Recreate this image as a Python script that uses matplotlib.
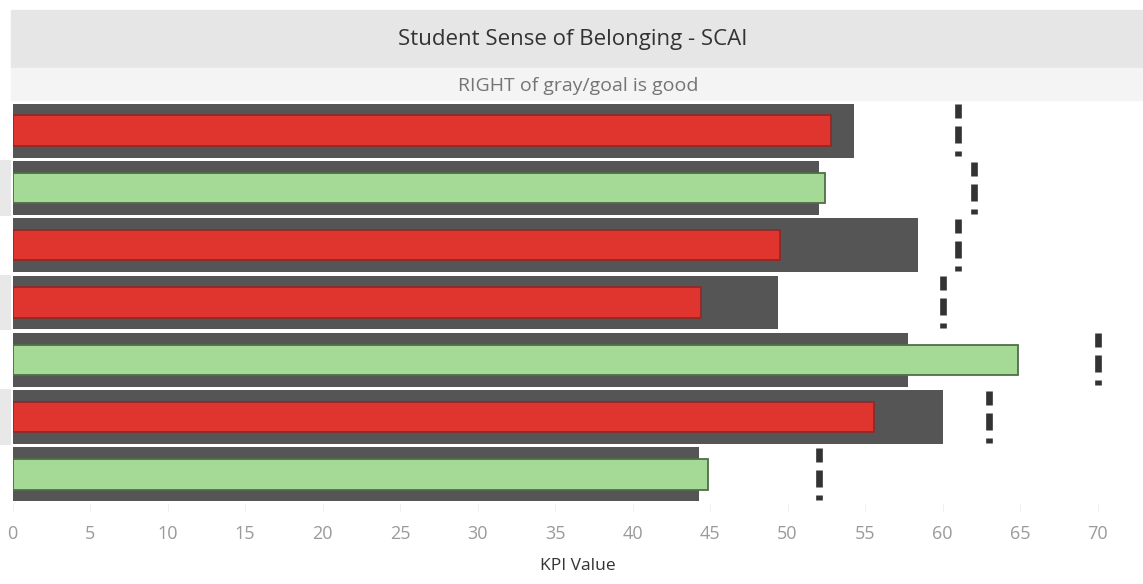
import numpy as np
import matplotlib.pyplot as plt
from matplotlib.patches import Rectangle

plt.rcParams['font.family'] = ['Open Sans', 'DejaVu Sans']

# data (top row first)
actual = [54.3, 52.0, 58.4, 49.4, 57.8, 60.0, 44.3]      # gray bars
current = [52.8, 52.4, 49.5, 44.4, 64.9, 55.6, 44.9]     # coloured bars
goal = [61.0, 62.0, 61.0, 60.0, 70.0, 63.0, 52.0]        # dashed target marks
ticks = list(range(0, 75, 5))

W, H = 1143, 584
fig = plt.figure(figsize=(W / 100, H / 100), dpi=100)

def fx(px):
    return px / W

def fy(py):
    return 1 - py / H

# header bands
fig.patches.append(Rectangle((fx(11), fy(68)), 1 - fx(11), fy(10) - fy(68),
                             transform=fig.transFigure, color='#e6e6e6', zorder=0))
fig.patches.append(Rectangle((fx(11), fy(100)), 1 - fx(11), fy(68) - fy(100),
                             transform=fig.transFigure, color='#f4f4f4', zorder=0))
fig.text(fx(573), fy(45), 'Student Sense of Belonging - SCAI', ha='center', va='baseline',
         fontsize=16, color='#333333')
fig.text(fx(578), fy(91), 'RIGHT of gray/goal is good', ha='center', va='baseline',
         fontsize=14, color='#757575')

n = len(actual)
y = np.arange(n)

# left row banding strip
axb = fig.add_axes([0, fy(503), fx(11), fy(102) - fy(503)])
axb.set_ylim(n - 0.5, -0.5)
axb.set_xlim(0, 1)
axb.barh(y[1::2], 1, height=0.97, color='#e8e8e8', left=0)
axb.axis('off')

ax = fig.add_axes([fx(12.5), fy(503), 1 - fx(12.5), fy(102) - fy(503)])
ax.set_ylim(n - 0.5, -0.5)
ax.set_xlim(0, (W - 12.5) / 15.5)

colors = ['#e0342f' if c < a else '#a4d996' for c, a in zip(current, actual)]
edges = ['#8f2a28' if c < a else '#4f6e48' for c, a in zip(current, actual)]

ax.barh(y, actual, height=0.94, color='#555555', zorder=1)
ax.barh(y, current, height=0.53, color=colors, edgecolor=edges, linewidth=1.3, zorder=2)
for yi, g in zip(y, goal):
    ax.plot([g, g], [yi - 0.46, yi + 0.46], color='#333333', linewidth=4.8,
            linestyle=(0, (2.1, 1.2, 2.55, 1.2, 0.75, 2)), solid_capstyle='butt', zorder=3)

ax.set_xticks(ticks)
ax.set_xticklabels([str(t) for t in ticks], fontsize=13, color='#9a9a9a')
ax.tick_params(axis='x', length=6, width=0.6, color='#eeeeee', pad=10)
ax.set_yticks([])
for s in ax.spines.values():
    s.set_visible(False)
ax.set_xlabel('KPI Value', fontsize=12.5, color='#333333', labelpad=11)

fig.savefig('out.png', dpi=100)
